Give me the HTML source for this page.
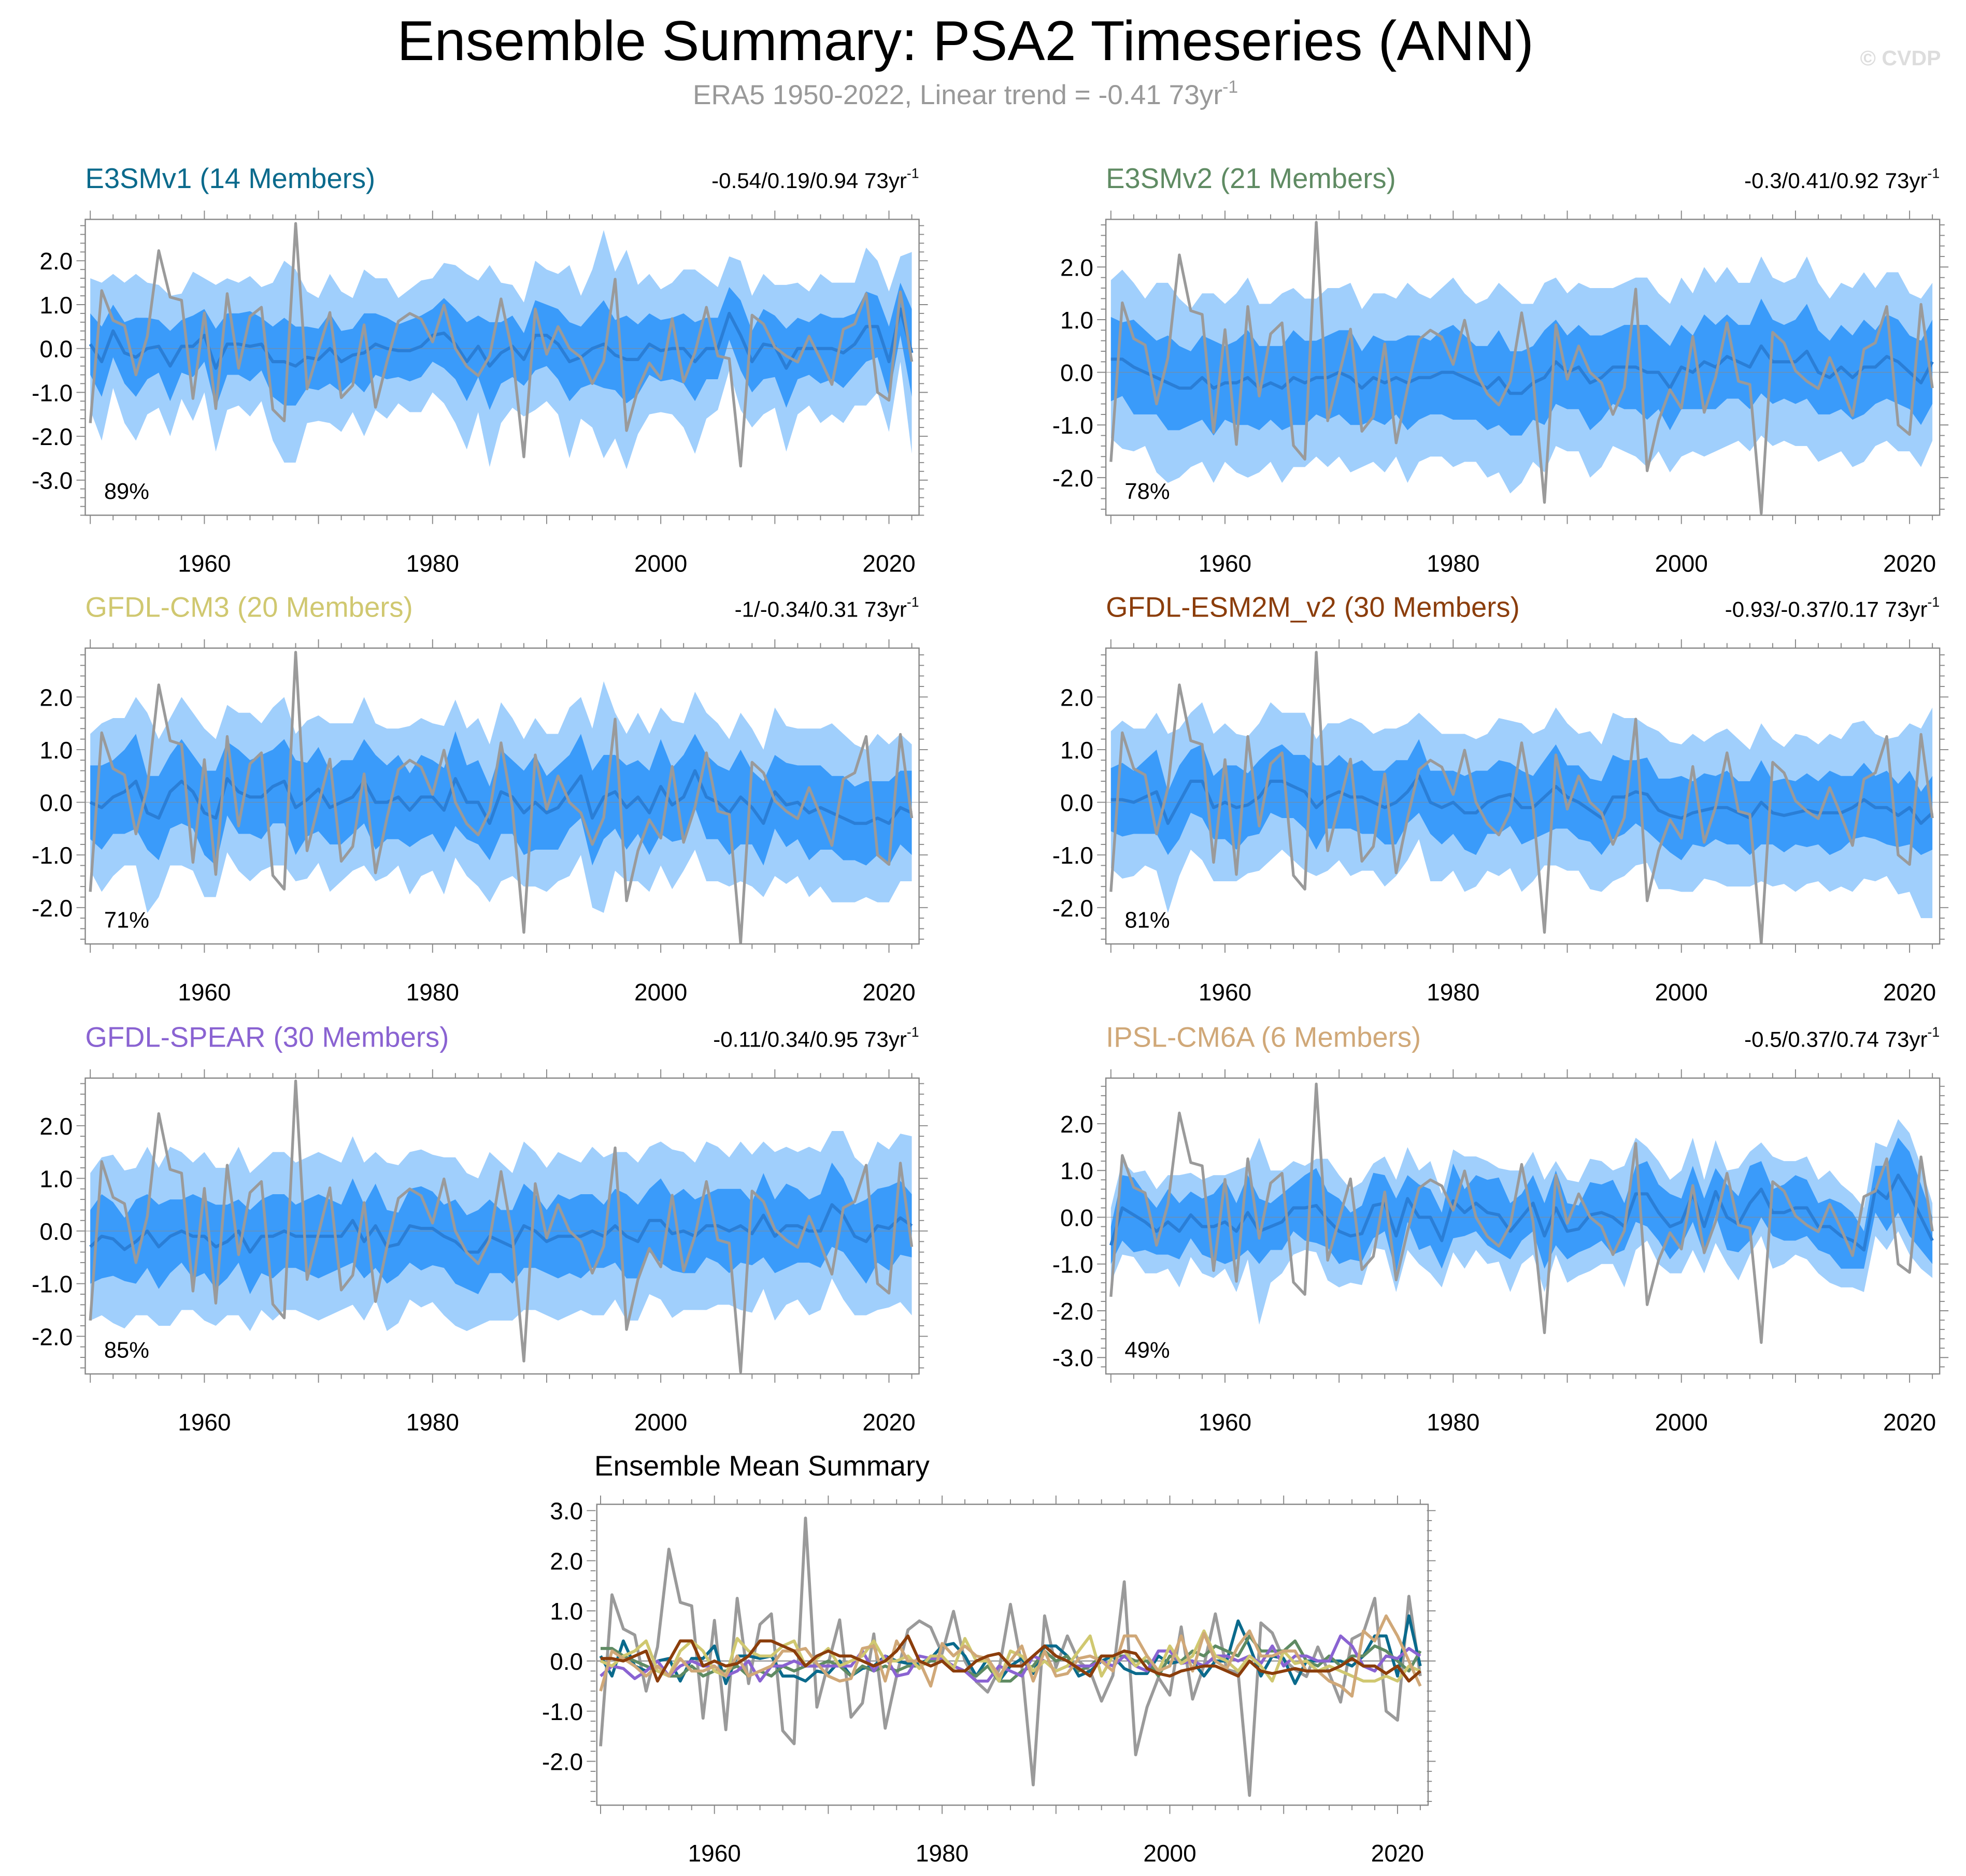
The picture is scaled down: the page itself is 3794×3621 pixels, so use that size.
<!DOCTYPE html>
<html><head><meta charset="utf-8"><style>
html,body{margin:0;padding:0;background:#fff;}
svg{display:block;font-family:"Liberation Sans",sans-serif;}
</style></head><body>
<svg id="chart" width="3794" height="3621" viewBox="0 0 1568 1496.5" xmlns="http://www.w3.org/2000/svg">
<rect width="1568" height="1496.5" fill="#fff"/>
<text x="770" y="48" font-size="44.7" text-anchor="middle" fill="#000">Ensemble Summary: PSA2 Timeseries (ANN)</text>
<text x="770" y="83" font-size="22" text-anchor="middle" fill="#999">ERA5 1950-2022, Linear trend = -0.41 73yr<tspan font-size="14" dy="-9">-1</tspan></text>
<text x="1548" y="52" font-size="17" font-weight="bold" text-anchor="end" fill="#ddd">© CVDP</text>
</svg>
<script>
const years = [];
for (let y = 1950; y <= 2022; y++) years.push(y);

const era5 = [
-1.70,1.32,0.64,0.52,-0.60,0.28,2.23,1.17,1.10,-1.14,
0.81,-1.37,1.25,-0.45,0.73,0.94,-1.39,-1.65,2.85,-0.92,
-0.05,0.82,-1.12,-0.84,0.54,-1.34,-0.30,0.62,0.80,0.67,
0.15,0.99,0.00,-0.41,-0.62,-0.17,1.13,-0.10,-2.47,0.90,
-0.13,0.50,0.00,-0.20,-0.80,-0.29,1.58,-1.87,-0.92,-0.33,
-0.68,0.68,-0.76,-0.09,0.94,-0.17,-0.23,-2.68,0.76,0.56,
0.03,-0.17,-0.31,0.28,-0.25,-0.82,0.44,0.56,1.25,-1.00,
-1.18,1.29,-0.30];

const meanE3SMv1 = [
0.1,-0.3,0.4,-0.1,-0.2,0.0,0.05,-0.4,0.05,0.05,
0.3,-0.45,0.1,0.1,0.05,0.1,-0.3,-0.3,-0.4,-0.2,
-0.25,0.0,-0.3,-0.15,-0.1,0.1,0.0,-0.05,-0.05,0.05,
0.3,0.35,0.1,-0.3,0.05,-0.4,-0.1,0.05,-0.25,0.3,
0.3,0.1,-0.3,-0.2,0.0,0.1,-0.15,-0.25,-0.25,0.1,
-0.05,0.0,0.0,-0.3,0.0,0.0,0.8,0.3,-0.3,0.1,
0.05,-0.45,0.0,0.0,0.0,0.0,-0.1,0.1,0.5,0.5,
-0.3,0.9,-0.1];
const innerE3SMv1 = [
0.7,0.8,0.6,0.7,0.9,0.7,0.6,0.8,0.6,0.7,
0.6,0.9,0.7,0.7,0.8,0.6,0.8,1.0,0.9,0.7,
0.7,0.8,0.7,0.6,0.9,0.7,0.7,0.6,0.7,0.7,
0.6,0.8,0.8,0.9,0.7,1.0,0.7,0.7,0.6,0.8,
0.7,0.8,0.9,0.7,0.8,1.0,0.8,1.0,0.8,0.7,
0.7,0.7,0.8,0.9,0.7,0.7,0.6,0.8,0.7,0.8,
0.7,0.9,0.7,0.6,0.8,0.7,0.8,0.7,0.8,0.7,
0.8,0.6,1.0];
const outerE3SMv1 = [
1.5,1.8,1.3,1.6,1.9,1.5,1.4,1.6,1.2,1.7,
1.3,1.9,1.5,1.4,1.6,1.3,1.8,2.3,2.2,1.5,
1.4,1.7,1.6,1.3,1.9,1.5,1.6,1.2,1.4,1.5,
1.3,1.6,1.8,2.0,1.5,2.3,1.6,1.4,1.3,1.7,
1.5,1.6,2.2,1.4,1.8,2.6,1.9,2.5,1.7,1.6,
1.4,1.5,1.8,2.1,1.6,1.4,1.3,1.7,1.5,1.6,
1.4,1.9,1.5,1.3,1.7,1.5,1.6,1.4,1.8,1.5,
1.6,1.2,2.3];

const meanE3SMv2 = [
0.25,0.25,0.1,0.0,-0.1,-0.2,-0.3,-0.3,-0.1,-0.3,
-0.2,-0.2,-0.1,-0.3,-0.2,-0.3,-0.1,-0.2,-0.1,-0.1,
0.0,-0.1,-0.3,-0.1,-0.2,-0.1,-0.2,-0.1,-0.1,0.0,
0.0,-0.1,-0.2,-0.3,-0.1,-0.4,-0.4,-0.2,-0.1,0.2,
0.0,0.1,-0.2,-0.1,0.1,0.1,0.1,0.0,0.0,-0.3,
0.1,0.0,0.2,0.1,0.3,0.2,0.1,0.5,0.2,0.2,
0.2,0.4,0.0,-0.1,0.1,-0.1,0.1,0.1,0.3,0.2,
0.0,-0.2,0.2];
const innerE3SMv2 = [
0.8,0.7,0.9,0.8,0.7,0.9,0.8,0.7,0.8,0.9,
0.7,0.8,0.9,0.8,0.7,0.8,0.9,0.8,0.7,0.8,
0.8,0.9,0.7,0.8,0.8,0.7,0.9,0.8,0.7,0.8,
0.9,0.8,0.7,0.8,0.9,0.8,0.8,0.7,0.9,0.8,
0.7,0.8,0.9,0.8,0.7,0.8,0.8,0.9,0.7,0.8,
0.8,0.7,0.9,0.8,0.8,0.7,0.8,0.9,0.8,0.7,
0.8,0.9,0.8,0.7,0.8,0.8,0.9,0.7,0.8,0.8,
0.7,0.8,0.8];
const outerE3SMv2 = [
1.5,1.7,1.6,1.4,1.8,1.9,1.7,1.5,1.6,1.8,
1.5,1.7,1.9,1.6,1.5,1.8,1.7,1.6,1.5,1.7,
1.6,1.8,1.5,1.6,1.7,1.5,1.9,1.6,1.5,1.6,
1.8,1.6,1.5,1.7,1.8,1.9,1.7,1.5,1.8,1.6,
1.5,1.6,1.8,1.7,1.5,1.6,1.7,1.8,1.5,1.6,
1.7,1.5,1.8,1.6,1.7,1.5,1.6,1.7,1.6,1.5,
1.6,1.8,1.7,1.5,1.6,1.7,1.8,1.5,1.6,1.7,
1.5,1.6,1.5];

const meanCM3 = [
0.0,-0.1,0.1,0.2,0.4,-0.2,-0.3,0.2,0.4,0.2,
-0.2,-0.3,0.45,0.2,0.1,0.1,0.3,0.4,-0.1,0.05,
0.25,-0.1,0.0,0.1,0.4,0.0,0.0,0.1,-0.15,0.1,
0.1,-0.15,0.45,0.0,0.0,-0.4,0.2,0.1,-0.2,0.0,
-0.2,-0.1,0.2,0.5,-0.3,0.1,0.2,-0.1,0.1,-0.2,
0.3,-0.05,0.1,0.6,0.1,0.0,-0.2,0.1,-0.1,-0.4,
0.2,-0.05,0.0,-0.2,-0.1,-0.2,-0.3,-0.4,-0.4,-0.3,
-0.4,-0.1,-0.2];
const innerCM3 = [
0.7,0.8,0.7,0.8,0.9,0.7,0.8,0.7,0.8,0.7,
0.8,0.9,0.7,0.8,0.7,0.8,0.7,0.8,0.9,0.7,
0.8,0.7,0.8,0.7,0.8,0.9,0.7,0.8,0.7,0.8,
0.7,0.8,0.9,0.7,0.8,0.7,0.8,0.7,0.8,0.9,
0.7,0.8,0.7,0.8,0.9,0.8,0.7,0.8,0.7,0.8,
0.9,0.7,0.8,0.7,0.8,0.7,0.8,0.9,0.7,0.8,
0.7,0.8,0.7,0.9,0.8,0.7,0.8,0.7,0.8,0.7,
0.8,0.7,0.8];
const outerCM3 = [
1.3,1.6,1.5,1.4,1.6,1.9,1.5,1.4,1.6,1.5,
1.6,1.5,1.4,1.5,1.6,1.4,1.5,1.6,1.4,1.5,
1.4,1.6,1.5,1.4,1.6,1.5,1.4,1.3,1.6,1.5,
1.4,1.6,1.5,1.4,1.6,1.5,1.7,1.5,1.4,1.6,
1.5,1.4,1.6,1.5,1.7,2.2,1.5,1.4,1.6,1.5,
1.5,1.6,1.4,1.5,1.6,1.5,1.4,1.6,1.5,1.4,
1.6,1.5,1.4,1.6,1.5,1.7,1.6,1.5,1.4,1.6,
1.5,1.4,1.3];

const meanESM2M = [
0.05,0.05,0.0,0.1,0.2,-0.4,0.0,0.4,0.4,-0.1,
0.0,-0.1,-0.05,0.1,0.4,0.4,0.3,0.2,-0.1,0.1,
0.2,0.1,0.1,0.0,-0.1,0.0,0.2,0.5,0.0,-0.1,
0.0,-0.2,-0.2,0.0,0.1,0.15,-0.1,-0.1,0.1,0.3,
0.1,0.0,-0.15,-0.3,0.1,0.1,0.2,0.15,-0.15,-0.25,
-0.3,-0.2,-0.15,-0.1,-0.1,-0.2,-0.3,0.0,-0.2,-0.25,
-0.2,-0.15,-0.2,-0.2,-0.2,-0.1,0.05,-0.1,-0.1,-0.25,
-0.1,-0.4,-0.2];
const innerESM2M = [
0.6,0.7,0.6,0.7,0.8,0.6,0.7,0.6,0.7,0.6,
0.7,0.8,0.6,0.7,0.6,0.7,0.6,0.7,0.8,0.6,
0.7,0.6,0.7,0.6,0.7,0.8,0.6,0.7,0.6,0.7,
0.6,0.7,0.8,0.6,0.7,0.6,0.7,0.6,0.7,0.8,
0.6,0.7,0.6,0.7,0.8,0.7,0.6,0.7,0.6,0.7,
0.8,0.6,0.7,0.6,0.7,0.6,0.7,0.8,0.6,0.7,
0.6,0.7,0.6,0.8,0.7,0.6,0.7,0.6,0.7,0.6,
0.7,0.6,0.7];
const outerESM2M = [
1.3,1.5,1.4,1.3,1.5,1.7,1.4,1.3,1.5,1.4,
1.5,1.4,1.3,1.4,1.5,1.3,1.4,1.5,1.3,1.4,
1.3,1.5,1.4,1.3,1.5,1.4,1.3,1.2,1.5,1.4,
1.3,1.5,1.4,1.3,1.5,1.4,1.6,1.4,1.3,1.5,
1.4,1.3,1.5,1.4,1.6,1.5,1.4,1.3,1.5,1.4,
1.4,1.5,1.3,1.4,1.5,1.4,1.3,1.5,1.4,1.3,
1.5,1.4,1.3,1.5,1.4,1.6,1.5,1.4,1.3,1.5,
1.6,1.8,2.0];

const meanSPEAR = [
-0.3,-0.1,-0.15,-0.35,-0.2,0.0,-0.3,-0.1,0.0,-0.1,
-0.1,-0.3,-0.2,0.0,-0.4,-0.1,-0.1,0.0,-0.1,-0.1,
-0.1,-0.1,-0.1,0.2,-0.2,0.1,-0.3,-0.25,0.1,0.05,
0.05,-0.1,-0.2,-0.4,-0.4,-0.1,-0.2,-0.3,0.1,0.0,
-0.2,-0.1,-0.1,-0.1,0.0,-0.1,0.1,-0.1,-0.2,0.2,
0.2,-0.05,0.0,-0.1,0.1,0.1,0.0,0.1,-0.05,0.3,
-0.1,0.1,0.1,0.0,0.0,0.5,0.3,-0.1,-0.2,0.1,
0.05,0.25,0.1];
const innerSPEAR = [
0.7,0.8,0.7,0.6,0.8,0.7,0.8,0.7,0.6,0.8,
0.7,0.8,0.7,0.6,0.8,0.7,0.8,0.7,0.6,0.7,
0.8,0.7,0.6,0.8,0.7,0.8,0.7,0.6,0.7,0.8,
0.7,0.6,0.8,0.7,0.8,0.7,0.6,0.7,0.8,0.7,
0.6,0.8,0.7,0.8,0.7,0.6,0.7,0.8,0.7,0.6,
0.8,0.7,0.8,0.7,0.6,0.7,0.8,0.7,0.6,0.8,
0.7,0.8,0.7,0.6,0.7,0.8,0.7,0.6,0.8,0.7,
0.8,0.7,0.6];
const outerSPEAR = [
1.4,1.5,1.6,1.5,1.4,1.6,1.5,1.7,1.5,1.4,
1.6,1.5,1.4,1.6,1.5,1.4,1.6,1.5,1.4,1.5,
1.6,1.5,1.4,1.6,1.5,1.4,1.6,1.5,1.4,1.5,
1.4,1.5,1.6,1.5,1.4,1.6,1.5,1.4,1.6,1.5,
1.4,1.6,1.5,1.4,1.6,1.5,1.4,1.6,1.5,1.4,
1.5,1.6,1.5,1.4,1.6,1.5,1.4,1.6,1.5,1.4,
1.6,1.5,1.4,1.6,1.5,1.4,1.6,1.5,1.4,1.6,
1.5,1.6,1.7];

const meanIPSL = [
-0.6,0.2,0.05,-0.1,-0.3,-0.1,-0.3,0.05,-0.2,-0.2,
-0.1,-0.3,0.1,-0.3,-0.2,-0.1,0.2,0.2,0.25,-0.05,
-0.3,-0.4,-0.35,0.25,0.3,-0.4,0.4,0.0,0.0,-0.5,
0.35,0.1,0.3,0.1,0.05,-0.3,0.0,0.3,-0.4,0.2,
-0.3,-0.25,0.05,0.1,0.0,-0.2,0.5,0.5,0.1,-0.2,
-0.1,0.5,-0.2,0.55,0.0,-0.15,0.3,0.6,0.1,0.1,
0.2,0.2,-0.2,-0.2,-0.4,-0.5,-0.7,0.6,0.4,0.9,
0.5,0.0,-0.5];
const innerIPSL = [
0.4,0.7,0.8,0.6,0.5,0.7,0.6,0.5,0.6,0.7,
0.9,0.6,0.8,0.7,0.5,0.6,0.5,0.7,0.8,0.6,
0.7,0.5,0.6,0.7,0.6,0.8,0.5,0.7,0.6,0.6,
0.8,0.5,0.6,0.7,0.8,0.6,0.5,0.6,0.7,0.8,
0.6,0.5,0.7,0.6,0.8,0.5,0.6,0.7,0.6,0.7,
0.5,0.6,0.6,0.5,0.7,0.6,0.8,0.6,0.5,0.6,
0.7,0.6,0.5,0.6,0.7,0.6,0.4,0.5,0.7,0.8,
0.9,0.7,0.5];
const outerIPSL = [
0.8,1.0,0.9,1.1,0.9,1.0,1.2,0.9,1.0,1.1,
1.0,1.3,1.0,2.0,1.2,1.1,1.0,0.9,1.0,1.3,
1.2,1.0,1.1,0.9,1.0,1.2,1.1,1.0,1.2,1.0,
1.1,1.2,1.0,1.1,1.0,1.3,1.0,1.1,1.2,1.0,
1.1,1.0,1.2,1.1,1.0,1.3,1.2,1.0,1.1,1.0,
1.1,1.2,1.0,1.1,1.0,1.2,1.1,1.0,1.2,1.1,
1.0,1.1,1.0,1.2,1.1,1.0,0.9,1.0,1.1,1.2,
1.3,1.1,0.8];

const panelTitles = ["E3SMv1 (14 Members)","E3SMv2 (21 Members)","GFDL-CM3 (20 Members)","GFDL-ESM2M_v2 (30 Members)","GFDL-SPEAR (30 Members)","IPSL-CM6A (6 Members)"];
const panelTrends = ["-0.54/0.19/0.94","-0.3/0.41/0.92","-1/-0.34/0.31","-0.93/-0.37/0.17","-0.11/0.34/0.95","-0.5/0.37/0.74"];
const panelPercents = ["89%","78%","71%","81%","85%","49%"];
const panelMeans = [meanE3SMv1,meanE3SMv2,meanCM3,meanESM2M,meanSPEAR,meanIPSL];
const panelInner = [innerE3SMv1,innerE3SMv2,innerCM3,innerESM2M,innerSPEAR,innerIPSL];
const panelOuter = [outerE3SMv1,outerE3SMv2,outerCM3,outerESM2M,outerSPEAR,outerIPSL];
const yTicksA = [-3,-2,-1,0,1,2];
const yTicksB = [-2,-1,0,1,2];
const yTicksBottom = [-2,-1,0,1,2,3];
const xTickYears = [1960,1980,2000,2020];

const modelColors = ["#0a6a8c","#5f8b63","#d0c870","#8b3d0b","#8a63d2","#d0a878"];
const NS = "http://www.w3.org/2000/svg";
const svg = document.getElementById("chart");
function mk(tag, attrs, parent){
  const e = document.createElementNS(NS, tag);
  for (const k in attrs) e.setAttribute(k, attrs[k]);
  (parent||svg).appendChild(e);
  return e;
}
const layout = [
 {x:68, y:175, zero:278, ppu:35, yt:yTicksA},
 {x:882,y:175, zero:297, ppu:42, yt:yTicksB},
 {x:68, y:517, zero:640, ppu:42, yt:yTicksB},
 {x:882,y:517, zero:640, ppu:42, yt:yTicksB},
 {x:68, y:860, zero:982, ppu:42, yt:yTicksB},
 {x:882,y:860, zero:971, ppu:37.3, yt:yTicksA}
];

function drawAxes(g, L, W, H, ppy, yt, namePrefix){
  const xs = yr => L.x + 4 + (yr-1950)*ppy;
  const ys = v => L.zero - v*L.ppu;
  for (let yr = 1950; yr <= 2022; yr += 2){
    const major = yr % 10 === 0;
    const len = major ? 7 : 4;
    mk("line",{x1:xs(yr),x2:xs(yr),y1:L.y+H,y2:L.y+H+len,stroke:"#888","stroke-width":0.8},g);
    mk("line",{x1:xs(yr),x2:xs(yr),y1:L.y,y2:L.y-len,stroke:"#888","stroke-width":0.8},g);
  }
  for (let v = -40; v <= 40; v++){
    const vv = v*0.2;
    const py = ys(vv);
    if (py < L.y-0.5 || py > L.y+H+0.5) continue;
    const major = Math.abs(vv - Math.round(vv)) < 1e-6;
    const len = major ? 7 : 4;
    mk("line",{x1:L.x,x2:L.x-len,y1:py,y2:py,stroke:"#888","stroke-width":0.8},g);
    mk("line",{x1:L.x+W,x2:L.x+W+len,y1:py,y2:py,stroke:"#888","stroke-width":0.8},g);
  }
  yt.forEach(v=>{
    const t = mk("text",{x:L.x-10,y:ys(v)+7,"font-size":19,"text-anchor":"end",fill:"#000"},g);
    
    
    t.textContent = v.toFixed(1);
  });
  xTickYears.forEach(yr=>{
    const t = mk("text",{x:xs(yr),y:L.y+H+45,"font-size":19,"text-anchor":"middle",fill:"#000"},g);
    
    
    t.textContent = yr;
  });
  return {xs, ys};
}

function linePath(xs, ys, arr){
  return arr.map((v,i)=>(i?"L":"M")+xs(years[i]).toFixed(2)+","+ys(v).toFixed(2)).join("");
}
function bandPath(xs, ys, mean, w){
  let d = "";
  mean.forEach((m,i)=>{ d += (i?"L":"M")+xs(years[i]).toFixed(2)+","+ys(m+w[i]).toFixed(2); });
  for (let i = mean.length-1; i >= 0; i--) d += "L"+xs(years[i]).toFixed(2)+","+ys(mean[i]-w[i]).toFixed(2);
  return d+"Z";
}

const W = 665, H = 236;
layout.forEach((L, p)=>{
  const g = mk("g",{});
  
  
  const cp = mk("clipPath",{id:"clip"+p},g);
  mk("rect",{x:L.x,y:L.y,width:W,height:H},cp);
  const {xs, ys} = drawAxes(g, L, W, H, 9.1, L.yt, 'panel-'+(p+1));
  const inner = mk("g",{"clip-path":"url(#clip"+p+")"},g);
  const ob = mk("path",{d:bandPath(xs,ys,panelMeans[p],panelOuter[p]),fill:"#a0cffc"},inner);
  
  
  const ib = mk("path",{d:bandPath(xs,ys,panelMeans[p],panelInner[p]),fill:"#3a9bfa"},inner);
  
  
  mk("line",{x1:L.x,x2:L.x+W,y1:ys(0),y2:ys(0),stroke:"#888","stroke-width":0.6,"stroke-opacity":0.6},inner);
  const ml = mk("path",{d:linePath(xs,ys,panelMeans[p]),fill:"none",stroke:"#2a7ed6","stroke-width":2.5,"stroke-linejoin":"round"},inner);
  
  
  const el = mk("path",{d:linePath(xs,ys,era5),fill:"none",stroke:"#9a9a9a","stroke-width":2.2,"stroke-linejoin":"round"},inner);
  
  
  mk("rect",{x:L.x,y:L.y,width:W,height:H,fill:"none",stroke:"#888","stroke-width":1},g);
  const tt = mk("text",{x:L.x,y:L.y-25,"font-size":22.5,fill:modelColors[p]},g);
  
  
  tt.textContent = panelTitles[p];
  const tr = mk("text",{x:L.x+W,y:L.y-25,"font-size":17.4,"text-anchor":"end",fill:"#000"},g);
  
  
  tr.textContent = panelTrends[p]+" 73yr";
  const sup = mk("tspan",{"font-size":11,dy:-8},tr);
  sup.textContent = "-1";
  const pc = mk("text",{x:L.x+15,y:L.y+H-13,"font-size":18,fill:"#000"},g);
  
  
  pc.textContent = panelPercents[p];
});

(function(){
  const L = {x:476, y:1200, zero:1325, ppu:40};
  const BW = 663, BH = 240;
  const g = mk("g",{});
  
  
  const cp = mk("clipPath",{id:"clipB"},g);
  mk("rect",{x:L.x,y:L.y,width:BW,height:BH},cp);
  const xsB = yr => L.x + 3 + (yr-1950)*9.08;
  const ysB = v => L.zero - v*L.ppu;
  drawAxes(g, {x:L.x-1, y:L.y, zero:L.zero, ppu:L.ppu}, BW, BH, 9.08, yTicksBottom, 'summary');
  const inner = mk("g",{"clip-path":"url(#clipB)"},g);
  mk("line",{x1:L.x,x2:L.x+BW,y1:ysB(0),y2:ysB(0),stroke:"#888","stroke-width":0.8},inner);
  const el = mk("path",{d:linePath(xsB,ysB,era5),fill:"none",stroke:"#9a9a9a","stroke-width":2.4,"stroke-linejoin":"round"},inner);
  
  
  const order = [0,1,4,2,5,3];
  order.forEach(p=>{
    const l = mk("path",{d:linePath(xsB,ysB,panelMeans[p]),fill:"none",stroke:modelColors[p],"stroke-width":2.4,"stroke-linejoin":"round"},inner);
    
    
  });
  mk("rect",{x:L.x,y:L.y,width:BW,height:BH,fill:"none",stroke:"#888","stroke-width":1},g);
  const t = mk("text",{x:474,y:1177,"font-size":22.7,fill:"#000"},g);
  
  
  t.textContent = "Ensemble Mean Summary";
})();
</script>
</body></html>
